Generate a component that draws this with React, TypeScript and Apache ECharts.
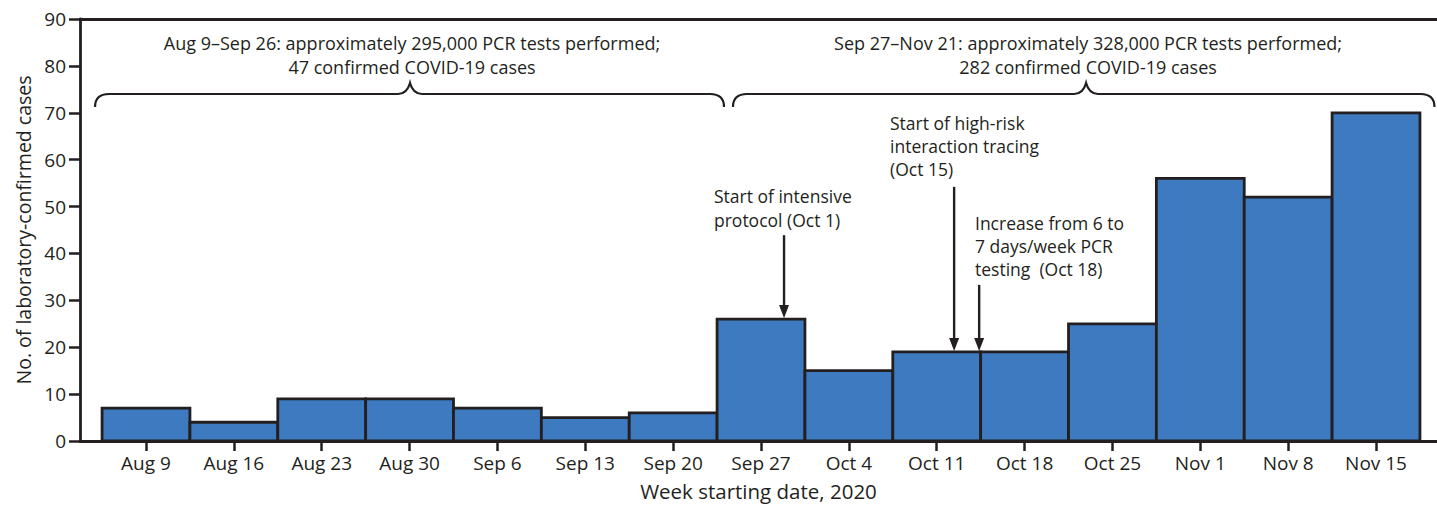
import React, { useEffect, useRef } from "react";
import * as echarts from "echarts";

const categories = ["Aug 9", "Aug 16", "Aug 23", "Aug 30", "Sep 6", "Sep 13", "Sep 20", "Sep 27", "Oct 4", "Oct 11", "Oct 18", "Oct 25", "Nov 1", "Nov 8", "Nov 15"];
const cases = [7, 4, 9, 9, 7, 5, 6, 26, 15, 19, 19, 25, 56, 52, 70];
const yTicks = { min: 0, max: 90, interval: 10 };
const xTitle = "Week starting date, 2020";
const yTitle = "No. of laboratory-confirmed cases";

const periodNotes = [
  { lines: ["Aug 9\u2013Sep 26: approximately 295,000 PCR tests performed;", "47 confirmed COVID-19 cases"], from: -0.58, to: 6.579, peak: 3.005 },
  { lines: ["Sep 27\u2013Nov 21: approximately 328,000 PCR tests performed;", "282 confirmed COVID-19 cases"], from: 6.681, to: 14.665, peak: 10.7 },
];

const arrowNotes = [
  { lines: ["Start of intensive", "protocol (Oct 1)"], x: 7.262, yTop: 43.9, yEnd: 26, textLeft: 714, firstLineY: 196, lh: 24 },
  { lines: ["Start of high-risk", "interaction tracing", "(Oct 15)"], x: 9.198, yTop: 54.2, yEnd: 19, textLeft: 890, firstLineY: 123, lh: 23 },
  { lines: ["Increase from 6 to", "7 days/week PCR", "testing  (Oct 18)"], x: 9.483, yTop: 33.3, yEnd: 19, textLeft: 975, firstLineY: 223, lh: 23 },
];

const FONT = "Open Sans";
const INK = "#231f20";
const BAR = "#3d7abf";

const X_MIN = -0.7512;
const X_MAX = 14.694;

export default function App() {
  const ref = useRef<HTMLDivElement>(null);
  useEffect(() => {
    const chart = echarts.init(ref.current!, null, { renderer: "svg" });
    const option: any = {
      animation: false,
      grid: { left: 80, right: 0, top: 19, bottom: 65, outerBoundsMode: "none", containLabel: false },
      xAxis: [
        {
          type: "value",
          min: X_MIN,
          max: X_MAX,
          splitLine: { show: false },
          axisLine: { show: true, onZero: false, lineStyle: { color: INK, width: 2.8 } },
          axisTick: { show: true, length: 10, customValues: categories.map((_, i) => i), lineStyle: { color: INK, width: 2.5 } },
          axisLabel: {
            customValues: categories.map((_, i) => i),
            formatter: (v: number) => categories[Math.round(v)] ?? "",
            fontFamily: FONT,
            fontSize: 19,
            color: INK,
            margin: 12,
          },
          name: xTitle,
          nameLocation: "middle",
          nameGap: 39,
          nameTextStyle: { fontFamily: FONT, fontSize: 20.5, color: INK },
        },
        {
          type: "value",
          position: "top",
          min: X_MIN,
          max: X_MAX,
          splitLine: { show: false },
          axisLine: { show: true, onZero: false, lineStyle: { color: INK, width: 2.8 } },
          axisTick: { show: false },
          axisLabel: { show: false },
        },
      ],
      yAxis: {
        type: "value",
        min: yTicks.min,
        max: yTicks.max,
        interval: yTicks.interval,
        splitLine: { show: false },
        axisLine: { show: true, onZero: false, lineStyle: { color: INK, width: 2.8 } },
        axisTick: { show: true, length: 11, lineStyle: { color: INK, width: 2.5 } },
        axisLabel: { fontFamily: FONT, fontSize: 19, color: INK, margin: 14 },
        name: yTitle,
        nameLocation: "middle",
        nameGap: 45,
        nameRotate: 90,
        nameTextStyle: { fontFamily: FONT, fontSize: 19.5, color: INK },
      },
      series: [
        {
          type: "custom",
          xAxisIndex: 0,
          yAxisIndex: 0,
          data: cases.map((v, i) => [i, v]),
          encode: { x: 0, y: 1 },
          renderItem: (params: any, api: any) => {
            const i = api.value(0);
            const v = api.value(1);
            const p0 = api.coord([i - 0.5, v]);
            const p1 = api.coord([i + 0.5, 0]);
            return {
              type: "rect",
              shape: { x: p0[0], y: p0[1], width: p1[0] - p0[0], height: p1[1] - p0[1] },
              style: { fill: BAR, stroke: INK, lineWidth: 2.8 },
            };
          },
        },
      ],
    };
    chart.setOption(option);

    const px = (x: number, y: number) => chart.convertToPixel({ xAxisIndex: 0, yAxisIndex: 0 }, [x, y]) as number[];
    const graphics: any[] = [];

    periodNotes.forEach((n, k) => {
      const left = px(n.from, 0)[0];
      const right = px(n.to, 0)[0];
      const peak = px(n.peak, 0)[0];
      const yLine = 94;
      const r = 12;
      const d =
        `M ${left} ${yLine + 13} Q ${left} ${yLine} ${left + r + 2} ${yLine} ` +
        `L ${peak - r} ${yLine} Q ${peak - 3} ${yLine} ${peak} ${yLine - 11} ` +
        `Q ${peak + 3} ${yLine} ${peak + r} ${yLine} ` +
        `L ${right - r - 2} ${yLine} Q ${right} ${yLine} ${right} ${yLine + 13}`;
      const name = "brace" + k;
      echarts.graphic.registerShape(name, echarts.graphic.extendPath(d, {}) as any);
      graphics.push({ type: name, x: 0, y: 0, style: { fill: "none", stroke: INK, lineWidth: 2.2 }, z: 10 });
      n.lines.forEach((line, j) => {
        graphics.push({
          type: "text",
          x: peak + 2,
          y: 43 + j * 24,
          style: { text: line, fontFamily: FONT, fontSize: 18, fill: INK, align: "center", verticalAlign: "middle" },
          z: 10,
        });
      });
    });

    arrowNotes.forEach((a) => {
      const top = px(a.x, a.yTop);
      const end = px(a.x, a.yEnd);
      const headH = 14;
      graphics.push({ type: "line", shape: { x1: top[0], y1: top[1], x2: end[0], y2: end[1] - headH + 2 }, style: { stroke: INK, lineWidth: 2.4 }, z: 10 });
      graphics.push({
        type: "polygon",
        shape: { points: [[end[0] - 5, end[1] - headH], [end[0] + 5, end[1] - headH], [end[0], end[1] - 1]] },
        style: { fill: INK },
        z: 10,
      });
      a.lines.forEach((line, j) => {
        graphics.push({
          type: "text",
          x: a.textLeft,
          y: a.firstLineY + j * a.lh,
          style: { text: line, fontFamily: FONT, fontSize: 17.5, fill: INK, align: "left", verticalAlign: "middle" },
          z: 10,
        });
      });
    });

    chart.setOption({ graphic: graphics });
    return () => chart.dispose();
  }, []);
  return <div ref={ref} style={{ width: 1437, height: 506, position: "absolute", left: 0, top: 0 }} />;
}
